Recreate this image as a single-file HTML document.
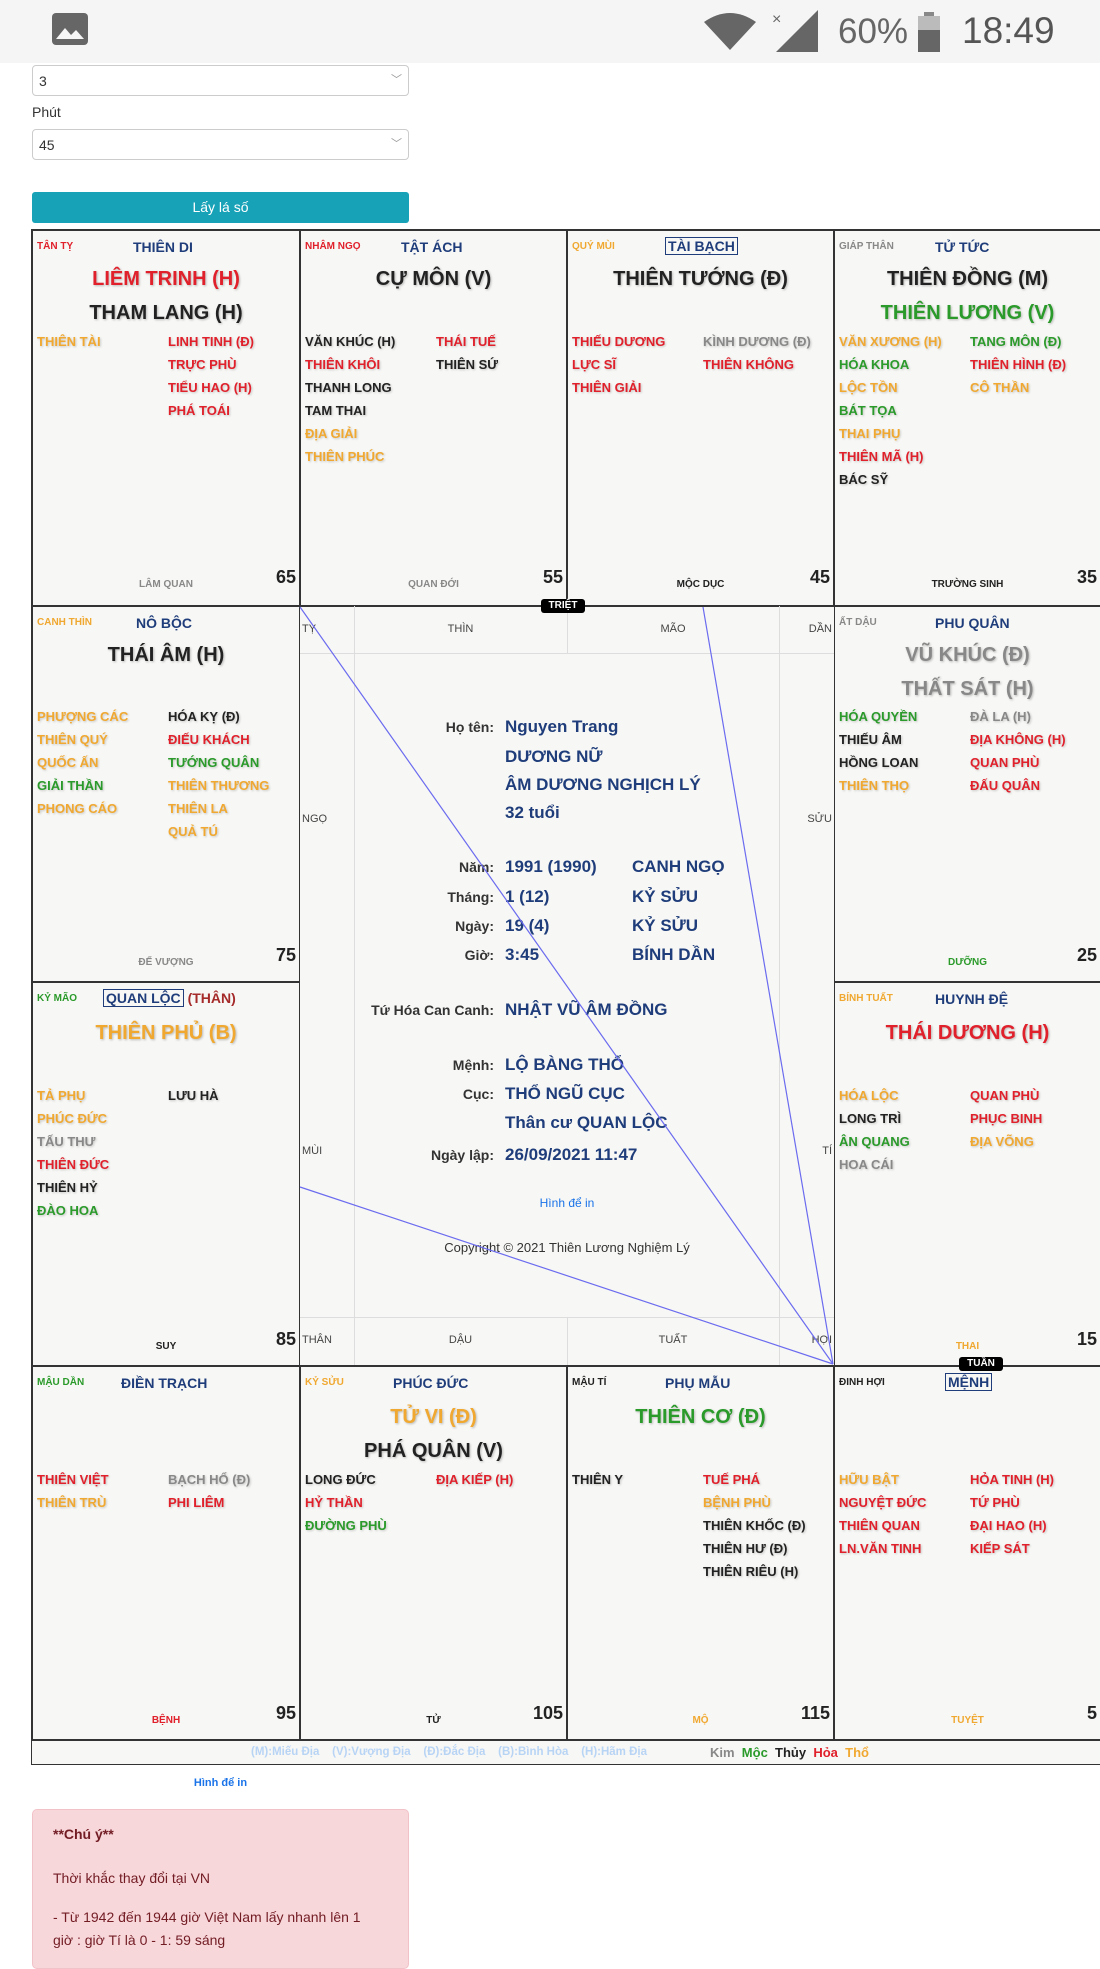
<!DOCTYPE html>
<html><head><meta charset="utf-8">
<style>
*{margin:0;padding:0;box-sizing:border-box}
body{width:1100px;height:1956px;background:#fff;position:relative;overflow:hidden;font-family:"Liberation Sans",sans-serif}
.a{position:absolute;white-space:nowrap}
.c{position:absolute;background:#f7f7f5;border:1px solid #333}
.c div{position:absolute;white-space:nowrap;font-weight:bold}
.cc{left:4px;font-size:10px;line-height:12px}
.cn{left:100px;font-size:14px;line-height:16px;color:#1f3d7a}
.bx{border:1px solid #1f3d7a;padding:0 2px}
.m{left:0;right:0;text-align:center;font-size:20px;line-height:22px;text-shadow:1px 1px 2px rgba(0,0,0,.25)}
.s{font-size:13px;line-height:16px;text-shadow:1px 1px 2px rgba(0,0,0,.2)}
.L{left:4px}.R{left:135px}
.ts{left:0;right:0;text-align:center;font-size:10px;line-height:12px}
.n{right:3px;font-size:18px;line-height:20px;color:#222}
.r{color:#e0202b}.o{color:#f0a830}.g{color:#2a9a2a}.k{color:#222}.y{color:#888}
.lab{font-size:14px;font-weight:bold;color:#333;text-align:right;width:200px;left:294px;line-height:18px}
.val{font-size:17px;font-weight:bold;color:#1f3d7a;line-height:18px}
.gz{font-size:11px;color:#444;line-height:12px}
.bad{position:absolute;background:#000;color:#fff;font-size:10px;font-weight:bold;border-radius:3px;text-align:center;line-height:14px;height:14px}
</style></head><body>
<!-- status bar -->
<div class="a" style="left:0;top:0;width:1100px;height:63px;background:#f5f5f5"></div>
<svg class="a" style="left:52px;top:13px" width="36" height="32" viewBox="0 0 36 32"><rect x="0" y="0" width="36" height="32" rx="4" fill="#666"/><path d="M4 26 L13 15 L19 22 L24 17 L32 26 Z" fill="#f5f5f5"/></svg>
<svg class="a" style="left:704px;top:12px" width="52" height="40" viewBox="0 0 52 40"><path d="M26 38 L0 10 Q26 -8 52 10 Z" fill="#666"/></svg>
<svg class="a" style="left:772px;top:10px" width="46" height="42" viewBox="0 0 46 42"><path d="M46 0 L46 42 L4 42 Z" fill="#666"/><text x="0" y="14" font-size="16" fill="#666" font-family="Liberation Sans">×</text></svg>
<div class="a" style="left:838px;top:12px;font-size:35px;color:#666;line-height:40px">60%</div>
<svg class="a" style="left:918px;top:12px" width="22" height="40"><rect x="6" y="0" width="10" height="4" fill="#888"/><rect x="0" y="4" width="22" height="36" fill="#bbb"/><rect x="0" y="18" width="22" height="22" fill="#666"/></svg>
<div class="a" style="left:962px;top:10px;font-size:37px;color:#555;line-height:42px">18:49</div>
<!-- form -->
<div class="a" style="left:32px;top:65px;width:377px;height:31px;border:1px solid #ccc;border-radius:4px;font-size:14px;color:#333;padding:7px 6px">3<span style="position:absolute;right:6px;top:5px;color:#999;font-size:11px">﹀</span></div>
<div class="a" style="left:32px;top:104px;font-size:14px;color:#333">Phút</div>
<div class="a" style="left:32px;top:129px;width:377px;height:31px;border:1px solid #ccc;border-radius:4px;font-size:14px;color:#333;padding:7px 6px">45<span style="position:absolute;right:6px;top:5px;color:#999;font-size:11px">﹀</span></div>
<div class="a" style="left:32px;top:192px;width:377px;height:31px;background:#17a2b8;border-radius:3px;color:#fff;font-size:14px;text-align:center;line-height:31px">Lấy lá số</div>

<!-- chart outer -->
<div class="a" style="left:31px;top:229px;width:1080px;height:1536px;border:2px solid #333;background:#f7f7f5"></div>

<!-- Row 1 -->
<div class="c" style="left:32px;top:230px;width:268px;height:376px">
<div class="cc r" style="top:10px">TÂN TỴ</div><div class="cn" style="top:8px">THIÊN DI</div>
<div class="m r" style="top:37px">LIÊM TRINH (H)</div><div class="m k" style="top:71px">THAM LANG (H)</div>
<div class="s L o" style="top:103px">THIÊN TÀI</div>
<div class="s R r" style="top:103px">LINH TINH (Đ)</div><div class="s R r" style="top:126px">TRỰC PHÙ</div><div class="s R r" style="top:149px">TIỂU HAO (H)</div><div class="s R r" style="top:172px">PHÁ TOÁI</div>
<div class="ts y" style="top:348px">LÂM QUAN</div><div class="n" style="top:336px">65</div></div>

<div class="c" style="left:300px;top:230px;width:267px;height:376px">
<div class="cc r" style="top:10px">NHÂM NGỌ</div><div class="cn" style="top:8px">TẬT ÁCH</div>
<div class="m k" style="top:37px">CỰ MÔN (V)</div>
<div class="s L k" style="top:103px">VĂN KHÚC (H)</div><div class="s L r" style="top:126px">THIÊN KHÔI</div><div class="s L k" style="top:149px">THANH LONG</div><div class="s L k" style="top:172px">TAM THAI</div><div class="s L o" style="top:195px">ĐỊA GIẢI</div><div class="s L o" style="top:218px">THIÊN PHÚC</div>
<div class="s R r" style="top:103px">THÁI TUẾ</div><div class="s R k" style="top:126px">THIÊN SỨ</div>
<div class="ts y" style="top:348px">QUAN ĐỚI</div><div class="n" style="top:336px">55</div></div>

<div class="c" style="left:567px;top:230px;width:267px;height:376px">
<div class="cc o" style="top:10px">QUÝ MÙI</div><div class="cn" style="top:7px;left:97px"><span class="bx">TÀI BẠCH</span></div>
<div class="m k" style="top:37px">THIÊN TƯỚNG (Đ)</div>
<div class="s L r" style="top:103px">THIẾU DƯƠNG</div><div class="s L r" style="top:126px">LỰC SĨ</div><div class="s L r" style="top:149px">THIÊN GIẢI</div>
<div class="s R y" style="top:103px">KÌNH DƯƠNG (Đ)</div><div class="s R r" style="top:126px">THIÊN KHÔNG</div>
<div class="ts k" style="top:348px">MỘC DỤC</div><div class="n" style="top:336px">45</div></div>

<div class="c" style="left:834px;top:230px;width:280px;height:376px">
<div class="cc y" style="top:10px">GIÁP THÂN</div><div class="cn" style="top:8px">TỬ TỨC</div>
<div class="m k" style="top:37px;right:13px">THIÊN ĐỒNG (M)</div><div class="m g" style="top:71px;right:13px">THIÊN LƯƠNG (V)</div>
<div class="s L o" style="top:103px">VĂN XƯƠNG (H)</div><div class="s L g" style="top:126px">HÓA KHOA</div><div class="s L o" style="top:149px">LỘC TỒN</div><div class="s L g" style="top:172px">BÁT TỌA</div><div class="s L o" style="top:195px">THAI PHỤ</div><div class="s L r" style="top:218px">THIÊN MÃ (H)</div><div class="s L k" style="top:241px">BÁC SỸ</div>
<div class="s R g" style="top:103px">TANG MÔN (Đ)</div><div class="s R r" style="top:126px">THIÊN HÌNH (Đ)</div><div class="s R o" style="top:149px">CÔ THẦN</div>
<div class="ts k" style="top:348px;right:13px">TRƯỜNG SINH</div><div class="n" style="top:336px;right:16px">35</div></div>

<!-- Row 2 -->
<div class="c" style="left:32px;top:606px;width:268px;height:376px">
<div class="cc o" style="top:10px">CANH THÌN</div><div class="cn" style="top:8px;left:103px">NÔ BỘC</div>
<div class="m k" style="top:37px">THÁI ÂM (H)</div>
<div class="s L o" style="top:102px">PHƯỢNG CÁC</div><div class="s L o" style="top:125px">THIÊN QUÝ</div><div class="s L o" style="top:148px">QUỐC ẤN</div><div class="s L g" style="top:171px">GIẢI THẦN</div><div class="s L o" style="top:194px">PHONG CÁO</div>
<div class="s R k" style="top:102px">HÓA KỴ (Đ)</div><div class="s R r" style="top:125px">ĐIẾU KHÁCH</div><div class="s R g" style="top:148px">TƯỚNG QUÂN</div><div class="s R o" style="top:171px">THIÊN THƯƠNG</div><div class="s R o" style="top:194px">THIÊN LA</div><div class="s R o" style="top:217px">QUẢ TÚ</div>
<div class="ts y" style="top:350px">ĐẾ VƯỢNG</div><div class="n" style="top:338px">75</div></div>

<div class="c" style="left:834px;top:606px;width:280px;height:376px">
<div class="cc y" style="top:10px">ẤT DẬU</div><div class="cn" style="top:8px">PHU QUÂN</div>
<div class="m y" style="top:37px;right:13px">VŨ KHÚC (Đ)</div><div class="m y" style="top:71px;right:13px">THẤT SÁT (H)</div>
<div class="s L g" style="top:102px">HÓA QUYỀN</div><div class="s L k" style="top:125px">THIẾU ÂM</div><div class="s L k" style="top:148px">HỒNG LOAN</div><div class="s L o" style="top:171px">THIÊN THỌ</div>
<div class="s R y" style="top:102px">ĐÀ LA (H)</div><div class="s R r" style="top:125px">ĐỊA KHÔNG (H)</div><div class="s R r" style="top:148px">QUAN PHÙ</div><div class="s R r" style="top:171px">ĐẤU QUÂN</div>
<div class="ts g" style="top:350px;right:13px">DƯỠNG</div><div class="n" style="top:338px;right:16px">25</div></div>

<!-- Row 3 -->
<div class="c" style="left:32px;top:982px;width:268px;height:384px">
<div class="cc g" style="top:10px">KỶ MÃO</div><div class="cn" style="top:7px;left:70px"><span class="bx">QUAN LỘC</span> <span style="color:#a52a2a">(THÂN)</span></div>
<div class="m o" style="top:39px">THIÊN PHỦ (B)</div>
<div class="s L o" style="top:105px">TẢ PHỤ</div><div class="s L o" style="top:128px">PHÚC ĐỨC</div><div class="s L y" style="top:151px">TẤU THƯ</div><div class="s L r" style="top:174px">THIÊN ĐỨC</div><div class="s L k" style="top:197px">THIÊN HỶ</div><div class="s L g" style="top:220px">ĐÀO HOA</div>
<div class="s R k" style="top:105px">LƯU HÀ</div>
<div class="ts k" style="top:358px">SUY</div><div class="n" style="top:346px">85</div></div>

<div class="c" style="left:834px;top:982px;width:280px;height:384px">
<div class="cc o" style="top:10px">BÍNH TUẤT</div><div class="cn" style="top:8px">HUYNH ĐỆ</div>
<div class="m r" style="top:39px;right:13px">THÁI DƯƠNG (H)</div>
<div class="s L o" style="top:105px">HÓA LỘC</div><div class="s L k" style="top:128px">LONG TRÌ</div><div class="s L g" style="top:151px">ÂN QUANG</div><div class="s L y" style="top:174px">HOA CÁI</div>
<div class="s R r" style="top:105px">QUAN PHÙ</div><div class="s R r" style="top:128px">PHỤC BINH</div><div class="s R o" style="top:151px">ĐỊA VÕNG</div>
<div class="ts o" style="top:358px;right:13px">THAI</div><div class="n" style="top:346px;right:16px">15</div></div>

<!-- Row 4 -->
<div class="c" style="left:32px;top:1366px;width:268px;height:374px">
<div class="cc g" style="top:10px">MẬU DẦN</div><div class="cn" style="top:8px;left:88px">ĐIỀN TRẠCH</div>
<div class="s L r" style="top:105px">THIÊN VIỆT</div><div class="s L o" style="top:128px">THIÊN TRÙ</div>
<div class="s R y" style="top:105px">BẠCH HỔ (Đ)</div><div class="s R r" style="top:128px">PHI LIÊM</div>
<div class="ts r" style="top:348px">BỆNH</div><div class="n" style="top:336px">95</div></div>

<div class="c" style="left:300px;top:1366px;width:267px;height:374px">
<div class="cc o" style="top:10px">KỶ SỬU</div><div class="cn" style="top:8px;left:92px">PHÚC ĐỨC</div>
<div class="m o" style="top:39px">TỬ VI (Đ)</div><div class="m k" style="top:73px">PHÁ QUÂN (V)</div>
<div class="s L k" style="top:105px">LONG ĐỨC</div><div class="s L r" style="top:128px">HỶ THẦN</div><div class="s L g" style="top:151px">ĐƯỜNG PHÙ</div>
<div class="s R r" style="top:105px">ĐỊA KIẾP (H)</div>
<div class="ts k" style="top:348px">TỬ</div><div class="n" style="top:336px">105</div></div>

<div class="c" style="left:567px;top:1366px;width:267px;height:374px">
<div class="cc k" style="top:10px">MẬU TÍ</div><div class="cn" style="top:8px;left:97px">PHỤ MẪU</div>
<div class="m g" style="top:39px">THIÊN CƠ (Đ)</div>
<div class="s L k" style="top:105px">THIÊN Y</div>
<div class="s R r" style="top:105px">TUẾ PHÁ</div><div class="s R o" style="top:128px">BỆNH PHÙ</div><div class="s R k" style="top:151px">THIÊN KHỐC (Đ)</div><div class="s R k" style="top:174px">THIÊN HƯ (Đ)</div><div class="s R k" style="top:197px">THIÊN RIÊU (H)</div>
<div class="ts o" style="top:348px">MỘ</div><div class="n" style="top:336px">115</div></div>

<div class="c" style="left:834px;top:1366px;width:280px;height:374px">
<div class="cc k" style="top:10px">ĐINH HỢI</div><div class="cn" style="top:7px;left:110px"><span class="bx">MỆNH</span></div>
<div class="s L o" style="top:105px">HỮU BẬT</div><div class="s L r" style="top:128px">NGUYỆT ĐỨC</div><div class="s L r" style="top:151px">THIÊN QUAN</div><div class="s L r" style="top:174px">LN.VĂN TINH</div>
<div class="s R r" style="top:105px">HỎA TINH (H)</div><div class="s R r" style="top:128px">TỨ PHÙ</div><div class="s R r" style="top:151px">ĐẠI HAO (H)</div><div class="s R r" style="top:174px">KIẾP SÁT</div>
<div class="ts o" style="top:348px;right:13px">TUYỆT</div><div class="n" style="top:336px;right:16px">5</div></div>

<!-- legend row -->
<div class="a" style="left:32px;top:1740px;width:1080px;height:24px;border-top:1px solid #333;background:#f7f7f5"></div>
<div class="a" style="left:251px;top:1746px;font-size:11.5px;font-weight:bold;color:#b8d4f5">(M):Miếu Địa&nbsp;&nbsp;&nbsp;&nbsp;(V):Vượng Địa&nbsp;&nbsp;&nbsp;&nbsp;(Đ):Đắc Địa&nbsp;&nbsp;&nbsp;&nbsp;(B):Bình Hòa&nbsp;&nbsp;&nbsp;&nbsp;(H):Hãm Địa</div>
<div class="a" style="left:710px;top:1745px;font-size:13px;font-weight:bold"><span style="color:#888">Kim</span>&nbsp; <span class="g">Mộc</span>&nbsp; <span class="k">Thủy</span>&nbsp; <span class="r">Hỏa</span>&nbsp; <span class="o">Thổ</span></div>

<!-- center -->
<div class="a" style="left:300px;top:606px;width:534px;height:760px;background:#f7f7f5;border-top:1px solid #333;border-bottom:1px solid #333"></div>
<div class="a" style="left:300px;top:653px;width:534px;height:1px;background:#ddd"></div>
<div class="a" style="left:300px;top:1317px;width:534px;height:1px;background:#ddd"></div>
<div class="a" style="left:354px;top:606px;width:1px;height:759px;background:#ddd"></div>
<div class="a" style="left:779px;top:606px;width:1px;height:759px;background:#ddd"></div>
<div class="a" style="left:567px;top:606px;width:1px;height:47px;background:#ddd"></div>
<div class="a" style="left:567px;top:1317px;width:1px;height:48px;background:#ddd"></div>
<div class="a gz" style="left:302px;top:623px">TỴ</div>
<div class="a gz" style="left:354px;width:213px;text-align:center;top:623px">THÌN</div>
<div class="a gz" style="left:567px;width:212px;text-align:center;top:623px">MÃO</div>
<div class="a gz" style="right:268px;top:623px">DẦN</div>
<div class="a gz" style="left:302px;top:813px">NGỌ</div>
<div class="a gz" style="right:268px;top:813px">SỬU</div>
<div class="a gz" style="left:302px;top:1145px">MÙI</div>
<div class="a gz" style="right:268px;top:1145px">TÍ</div>
<div class="a gz" style="left:302px;top:1334px">THÂN</div>
<div class="a gz" style="left:354px;width:213px;text-align:center;top:1334px">DẬU</div>
<div class="a gz" style="left:567px;width:212px;text-align:center;top:1334px">TUẤT</div>
<div class="a gz" style="right:268px;top:1334px">HỢI</div>

<div class="a lab" style="top:718px">Họ tên:</div><div class="a val" style="left:505px;top:718px">Nguyen Trang</div>
<div class="a val" style="left:505px;top:748px">DƯƠNG NỮ</div>
<div class="a val" style="left:505px;top:776px">ÂM DƯƠNG NGHỊCH LÝ</div>
<div class="a val" style="left:505px;top:804px">32 tuổi</div>
<div class="a lab" style="top:858px">Năm:</div><div class="a val" style="left:505px;top:858px">1991 (1990)</div><div class="a val" style="left:632px;top:858px">CANH NGỌ</div>
<div class="a lab" style="top:888px">Tháng:</div><div class="a val" style="left:505px;top:888px">1 (12)</div><div class="a val" style="left:632px;top:888px">KỶ SỬU</div>
<div class="a lab" style="top:917px">Ngày:</div><div class="a val" style="left:505px;top:917px">19 (4)</div><div class="a val" style="left:632px;top:917px">KỶ SỬU</div>
<div class="a lab" style="top:946px">Giờ:</div><div class="a val" style="left:505px;top:946px">3:45</div><div class="a val" style="left:632px;top:946px">BÍNH DẦN</div>
<div class="a lab" style="top:1001px">Tứ Hóa Can Canh:</div><div class="a val" style="left:505px;top:1001px">NHẬT VŨ ÂM ĐỒNG</div>
<div class="a lab" style="top:1056px">Mệnh:</div><div class="a val" style="left:505px;top:1056px">LỘ BÀNG THỔ</div>
<div class="a lab" style="top:1085px">Cục:</div><div class="a val" style="left:505px;top:1085px">THỔ NGŨ CỤC</div>
<div class="a val" style="left:505px;top:1114px">Thân cư QUAN LỘC</div>
<div class="a lab" style="top:1146px">Ngày lập:</div><div class="a val" style="left:505px;top:1146px">26/09/2021 11:47</div>
<div class="a" style="left:300px;width:534px;text-align:center;top:1196px;font-size:12px;color:#1a73e8">Hình để in</div>
<div class="a" style="left:300px;width:534px;text-align:center;top:1240px;font-size:13px;color:#333">Copyright © 2021 Thiên Lương Nghiệm Lý</div>

<svg class="a" style="left:0;top:0" width="1100" height="1956"><g stroke="#6b6bf0" stroke-width="1.2" fill="none">
<line x1="300" y1="607" x2="833" y2="1364"/><line x1="703" y1="607" x2="833" y2="1364"/><line x1="300" y1="1187" x2="833" y2="1364"/></g></svg>

<div class="bad" style="left:541px;top:599px;width:44px">TRIỆT</div>
<div class="bad" style="left:959px;top:1357px;width:44px">TUẦN</div>

<div class="a" style="left:32px;width:377px;text-align:center;top:1777px;font-size:11px;font-weight:bold;color:#1a73e8">Hình để in</div>
<div class="a" style="left:32px;top:1809px;width:377px;height:160px;background:#f8d7da;border:1px solid #f1c2c7;border-radius:5px;color:#721c24;font-size:14px;white-space:normal">
<div style="position:absolute;left:20px;top:16px;font-weight:bold">**Chú ý**</div>
<div style="position:absolute;left:20px;top:60px">Thời khắc thay đổi tại VN</div>
<div style="position:absolute;left:20px;top:96px;width:330px;line-height:23px">- Từ 1942 đến 1944 giờ Việt Nam lấy nhanh lên 1<br>giờ : giờ Tí là 0 - 1: 59 sáng</div>
</div>
</body></html>
